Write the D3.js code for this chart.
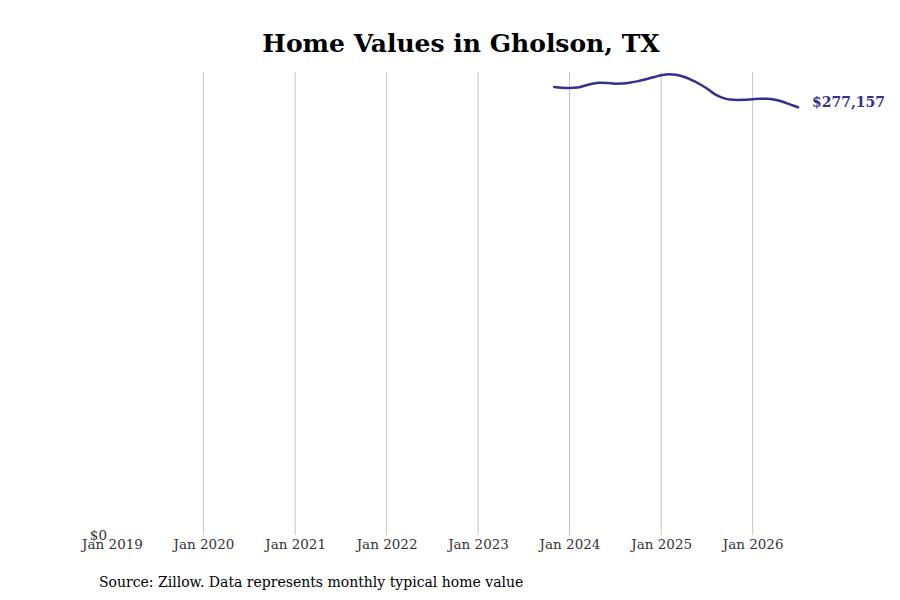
<!DOCTYPE html>
<html>
<head>
<meta charset="utf-8">
<script src="https://cdn.jsdelivr.net/npm/d3@7"></script>
<style>
	body { margin: 0; background: #fff; }
	svg text { font-family: "DejaVu Serif", serif; }
</style>
</head>
<body>
<div id="chart"></div>
<script>
// monthly typical home value, Nov 2023 .. Jul 2026
var months = [
	'2023-11', '2023-12',
	'2024-01', '2024-02', '2024-03', '2024-04', '2024-05', '2024-06',
	'2024-07', '2024-08', '2024-09', '2024-10', '2024-11', '2024-12',
	'2025-01', '2025-02', '2025-03', '2025-04', '2025-05', '2025-06',
	'2025-07', '2025-08', '2025-09', '2025-10', '2025-11', '2025-12',
	'2026-01', '2026-02', '2026-03', '2026-04', '2026-05', '2026-06',
	'2026-07'
];
var values = [
	290300, 289800,
	289650, 289900, 291100, 292400, 293000, 292850,
	292400, 292500, 293150, 294100, 295300, 296600,
	297900, 298550, 298200, 296900, 294950, 292400,
	289450, 285800, 283400, 282200, 281900, 282000,
	282350, 282650, 282700, 282000, 280700, 278900,
	277157
];
var yearTicks = ['2019-01', '2020-01', '2021-01', '2022-01', '2023-01', '2024-01', '2025-01', '2026-01'];
var yTicks = [0];

var width = 900;
var height = 600;
var margin = { top: 72, right: 102, bottom: 65, left: 112 };
var lineColor = '#352f8e';

var parseMonth = d3.timeParse('%Y-%m');
var data = months.map(function(m, i) {
	return { date: parseMonth(m), value: values[i] };
});

var svg = d3.select('#chart')
	.append('svg')
	.attr('width', width)
	.attr('height', height);

var xScale = d3.scaleTime()
	.domain([parseMonth('2019-01'), parseMonth('2026-07')])
	.range([margin.left, width - margin.right]);

var yScale = d3.scaleLinear()
	.domain([0, 300000])
	.range([height - margin.bottom, margin.top]);

// title
svg.append('text')
	.attr('x', 461)
	.attr('y', 52)
	.attr('text-anchor', 'middle')
	.attr('font-size', 25)
	.attr('font-weight', 'bold')
	.attr('fill', '#000')
	.text('Home Values in Gholson, TX');

// vertical grid
svg.append('g')
	.selectAll('line')
	.data(yearTicks.slice(1))
	.enter()
	.append('line')
	.attr('x1', function(d) { return xScale(parseMonth(d)); })
	.attr('x2', function(d) { return xScale(parseMonth(d)); })
	.attr('y1', margin.top)
	.attr('y2', height - margin.bottom)
	.attr('stroke', '#c4c4c4')
	.attr('stroke-width', 1);

// x axis
var xAxis = svg.append('g')
	.attr('transform', 'translate(0,' + (height - margin.bottom) + ')')
	.call(d3.axisBottom(xScale)
		.tickValues(yearTicks.map(parseMonth))
		.tickFormat(d3.timeFormat('Jan %Y'))
		.tickSize(0)
		.tickPadding(4));
xAxis.select('.domain').remove();
xAxis.selectAll('text')
	.attr('font-family', '"DejaVu Serif", serif')
	.attr('font-size', 13.5)
	.attr('fill', '#333');

// y axis
var yAxis = svg.append('g')
	.attr('transform', 'translate(' + margin.left + ',0)')
	.call(d3.axisLeft(yScale)
		.tickValues(yTicks)
		.tickFormat(function(d) { return '$' + d3.format(',')(d); })
		.tickSize(0)
		.tickPadding(5));
yAxis.select('.domain').remove();
yAxis.selectAll('text')
	.attr('font-family', '"DejaVu Serif", serif')
	.attr('font-size', 13.5)
	.attr('fill', '#333');

// line
var line = d3.line()
	.x(function(d) { return xScale(d.date); })
	.y(function(d) { return yScale(d.value); })
	.curve(d3.curveMonotoneX);

svg.append('path')
	.datum(data)
	.attr('d', line)
	.attr('fill', 'none')
	.attr('stroke', lineColor)
	.attr('stroke-width', 2.5)
	.attr('stroke-linecap', 'round');

// end label
var last = data[data.length - 1];
svg.append('text')
	.attr('x', xScale(last.date) + 14)
	.attr('y', yScale(last.value))
	.attr('font-size', 14)
	.attr('font-weight', 'bold')
	.attr('fill', lineColor)
	.text('$' + d3.format(',')(last.value));

// source
svg.append('text')
	.attr('x', 99)
	.attr('y', 587)
	.attr('font-size', 14)
	.attr('fill', '#000')
	.text('Source: Zillow. Data represents monthly typical home value');
</script>
</body>
</html>
